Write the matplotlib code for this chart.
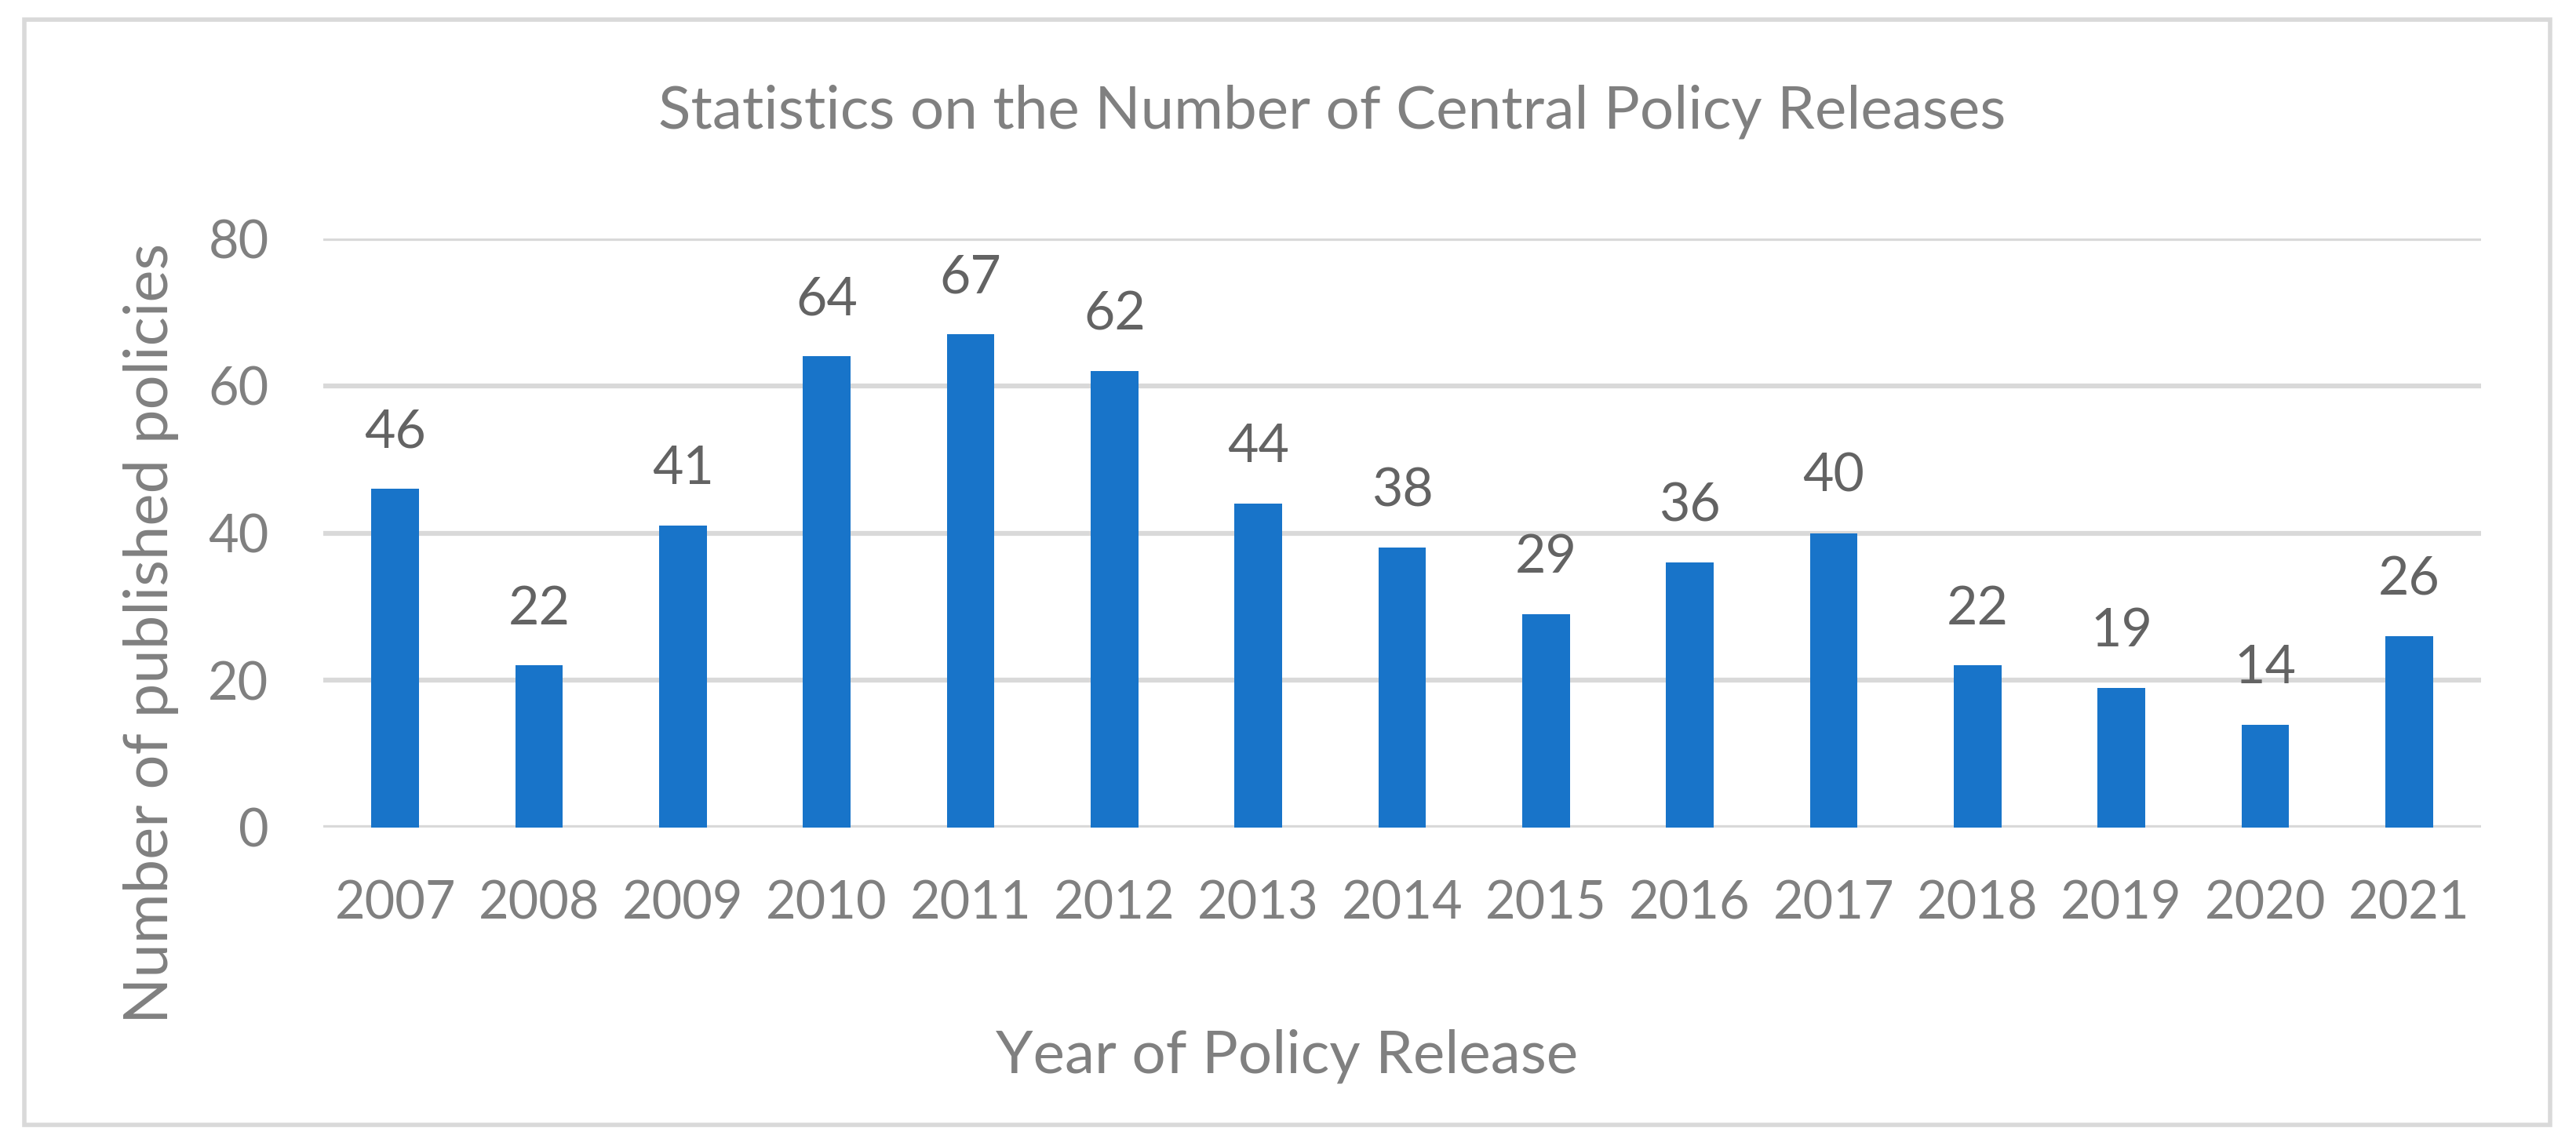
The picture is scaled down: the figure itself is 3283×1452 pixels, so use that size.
import matplotlib
matplotlib.use("Agg")
import matplotlib.pyplot as plt
from matplotlib.patches import Rectangle

years = ["2007", "2008", "2009", "2010", "2011", "2012", "2013", "2014",
         "2015", "2016", "2017", "2018", "2019", "2020", "2021"]
counts = [46, 22, 41, 64, 67, 62, 44, 38, 29, 36, 40, 22, 19, 14, 26]
yticks = [0, 20, 40, 60, 80]

title = "Statistics on the Number of Central Policy Releases"
xlabel = "Year of Policy Release"
ylabel = "Number of published policies"

BAR = "#1874C9"
GRID = "#D9D9D9"
AXTXT = "#808080"
LBLTXT = "#636363"

plt.rcParams['font.family'] = ['Lato', 'DejaVu Sans']

W, H, DPI = 3283, 1452, 100
fig = plt.figure(figsize=(W / DPI, H / DPI), dpi=DPI)
fig.patch.set_facecolor("white")

# chart border
fig.patches.append(Rectangle((31 / W, 1 - 1434 / H), (3250 - 31) / W, (1434 - 25) / H,
                             transform=fig.transFigure, fill=False,
                             edgecolor=GRID, linewidth=4))

left, right = 412 / W, 3162 / W
bottom, top = 1 - 1055 / H, 1 - 304 / H
ax = fig.add_axes([left, bottom, right - left, top - bottom])

x = list(range(len(years)))
bars = ax.bar(x, counts, width=0.33, color=BAR, zorder=3)
ax.set_xlim(-0.5, len(years) - 0.5)
ax.set_ylim(0, 80)
ax.set_yticks(yticks)
ax.set_xticks(x)
ax.set_xticklabels(years)
ax.yaxis.grid(True, color=GRID, linewidth=4.5, zorder=0)
ax.set_axisbelow(True)
for s in ax.spines.values():
    s.set_visible(False)
ax.tick_params(axis='both', length=0, labelsize=48, labelcolor=AXTXT)
ax.tick_params(axis='x', pad=48)
ax.tick_params(axis='y', pad=50)

for xi, v in zip(x, counts):
    ax.annotate(str(v), (xi, v), xytext=(0, 38), textcoords='offset points',
                ha='center', va='baseline', fontsize=49, color=LBLTXT)

fig.text(1698 / W, 1 - 142 / H, title, ha='center', va='center', fontsize=55, color=AXTXT)
fig.text(1640 / W, 1 - 1346 / H, xlabel, ha='center', va='center', fontsize=55, color=AXTXT)
fig.text(193 / W, 1 - 807 / H, ylabel, ha='center', va='center', rotation=90,
         fontsize=56, color=AXTXT)

fig.savefig("out.png", dpi=DPI, facecolor="white")
